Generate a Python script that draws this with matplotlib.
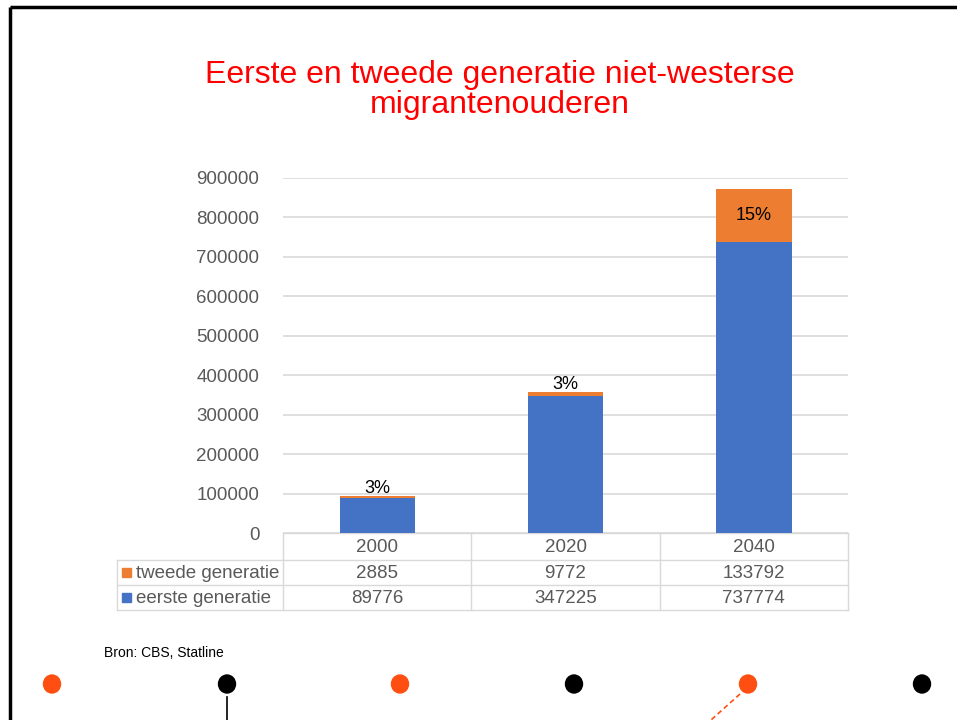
import matplotlib.pyplot as plt
from matplotlib.patches import Rectangle, Ellipse

plt.rcParams['font.family'] = ['Liberation Sans', 'DejaVu Sans']

years = ["2000", "2020", "2040"]
eerste = [89776, 347225, 737774]
tweede = [2885, 9772, 133792]
series_names = ["tweede generatie", "eerste generatie"]
yticks = [0, 100000, 200000, 300000, 400000, 500000, 600000, 700000, 800000, 900000]

blue = "#4472C4"
orange = "#ED7D31"
grey_txt = "#595959"
grid_col = "#D9D9D9"

W, H = 957, 720
fig = plt.figure(figsize=(W / 100, H / 100), dpi=100)

# overlay axes in pixel coordinates for border, table and decorations
bg = fig.add_axes([0, 0, 1, 1])
bg.set_xlim(0, W)
bg.set_ylim(H, 0)
bg.axis("off")

# plot area
x0, x1, ytop, ybot = 283, 848, 178, 533
ax = fig.add_axes([x0 / W, 1 - ybot / H, (x1 - x0) / W, (ybot - ytop) / H])
xs = range(len(years))
ax.bar(xs, eerste, width=0.4, color=blue, zorder=3)
ax.bar(xs, tweede, width=0.4, bottom=eerste, color=orange, zorder=3)
ax.set_xlim(-0.5, len(years) - 0.5)
ax.set_ylim(0, 900000)
ax.set_yticks(yticks)
ax.set_yticklabels([str(v) for v in yticks], fontsize=13.5, color=grey_txt)
ax.tick_params(axis="y", length=0, pad=17)
ax.set_xticks([])
for s in ax.spines.values():
    s.set_visible(False)
ax.grid(axis="y", color=grid_col, linewidth=1.2, zorder=0)
ax.patch.set_alpha(0)

# percentage labels
for i in xs:
    total = eerste[i] + tweede[i]
    pct = "{:.0f}%".format(100 * tweede[i] / total)
    if tweede[i] / total > 0.1:
        ax.text(i, eerste[i] + tweede[i] / 2, pct, ha="center", va="center",
                fontsize=13, color="black", zorder=4)
    else:
        ax.text(i, total - 2000, pct, ha="center", va="bottom",
                fontsize=13, color="black", zorder=4)

# title
bg.text(500, 75, "Eerste en tweede generatie niet-westerse", ha="center",
        va="center", fontsize=23, color="#FF0000")
bg.text(500, 105, "migrantenouderen", ha="center", va="center",
        fontsize=23, color="#FF0000")

# data table
colw = (x1 - x0) / len(years)
rows_y = [533, 560, 585, 610]
lab_x0 = 117
lw = 1.0
bg.plot([x0, x1], [rows_y[0], rows_y[0]], color=grid_col, lw=lw)
for yy in rows_y[1:]:
    bg.plot([lab_x0, x1], [yy, yy], color=grid_col, lw=lw)
bg.plot([lab_x0, lab_x0], [rows_y[1], rows_y[3]], color=grid_col, lw=lw)
for k in range(len(years) + 1):
    xx = x0 + k * colw
    bg.plot([xx, xx], [rows_y[0], rows_y[3]], color=grid_col, lw=lw)

row_vals = [tweede, eerste]
row_cols = [orange, blue]
for i, y in enumerate(years):
    cx = x0 + (i + 0.5) * colw
    bg.text(cx, (rows_y[0] + rows_y[1]) / 2 + 1, y, ha="center", va="center",
            fontsize=13.5, color=grey_txt)
    for r in range(2):
        cy = (rows_y[r + 1] + rows_y[r + 2]) / 2 + 1
        bg.text(cx, cy, str(row_vals[r][i]), ha="center", va="center",
                fontsize=13.5, color=grey_txt)
for r in range(2):
    cy = (rows_y[r + 1] + rows_y[r + 2]) / 2
    bg.add_patch(Rectangle((122, cy - 4.5), 9, 9, color=row_cols[r]))
    bg.text(136, cy + 1, series_names[r], ha="left", va="center",
            fontsize=13.5, color=grey_txt)

# source
bg.text(104, 653, "Bron: CBS, Statline", ha="left", va="center",
        fontsize=10, color="black")

# slide border
bg.plot([9.5, W], [7, 7], color="black", lw=2.5, solid_capstyle="butt")
bg.plot([9.5, 9.5], [7, H], color="black", lw=2.5, solid_capstyle="butt")

# timeline decoration
dot_x = [52, 227, 400, 574, 748, 922]
dot_c = ["#FF4E12", "black", "#FF4E12", "black", "#FF4E12", "black"]
for dx, dc in zip(dot_x, dot_c):
    bg.add_patch(Ellipse((dx, 684), 17, 18, color=dc))
bg.plot([227, 227], [697, H], color="black", lw=1.2)
bg.plot([740, 711], [694, H], color="#FF4E12", lw=1.2, ls=(0, (3, 2)))

fig.savefig("out.png", dpi=100)
